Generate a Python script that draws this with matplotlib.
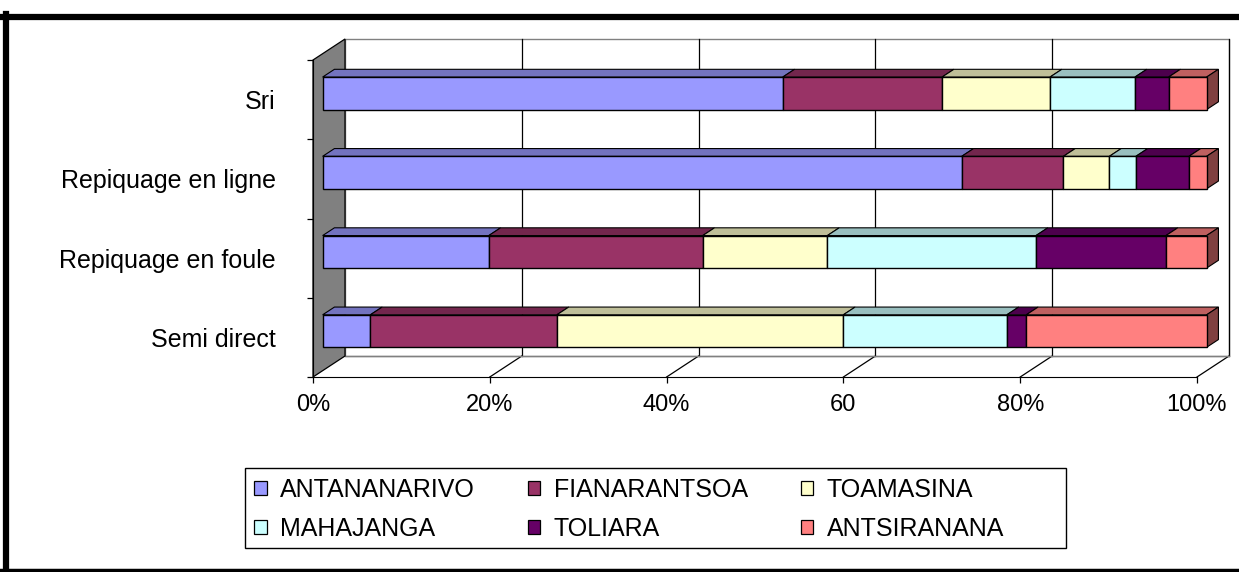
import numpy as np
import matplotlib
matplotlib.use('Agg')
import matplotlib.pyplot as plt
from matplotlib.patches import Polygon, Rectangle, Patch
from matplotlib.lines import Line2D
from matplotlib.colors import to_rgb

plt.rcParams['font.family'] = ['Liberation Sans', 'DejaVu Sans']

# Data (percent of each technique)
categories = ['Semi direct', 'Repiquage en foule', 'Repiquage en ligne', 'Sri']
regions = ['ANTANANARIVO', 'FIANARANTSOA', 'TOAMASINA', 'MAHAJANGA', 'TOLIARA', 'ANTSIRANANA']
antananarivo = [5.4, 18.8, 72.3, 52.0]
fianarantsoa = [21.1, 24.2, 11.5, 18.0]
toamasina = [32.4, 14.1, 5.2, 12.2]
mahajanga = [18.5, 23.6, 3.0, 9.6]
toliara = [2.2, 14.7, 6.0, 3.8]
antsiranana = [20.4, 4.6, 2.0, 4.3]
colors = ['#9999FF', '#993366', '#FFFFCC', '#CCFFFF', '#660066', '#FF8080']
xticks = [0, 20, 40, 60, 80, 100]
xticklabels = ['0%', '20%', '40%', '60', '80%', '100%']

series = np.array([antananarivo, fianarantsoa, toamasina, mahajanga, toliara, antsiranana])
series = series / series.sum(axis=0) * 100

W, H, DPI = 1239, 572, 100
fig = plt.figure(figsize=(W / DPI, H / DPI), dpi=DPI)
ax = fig.add_axes([313 / W, (H - 377) / H, 884 / W, 317 / H])
ax.set_xlim(0, 100)
ax.set_ylim(-0.5, 3.5)
ax.patch.set_visible(False)

# depth of the 3d box, in data units (32 px right, 21 px up)
DX = 32 * 100 / 884
DY = 21 * 4 / 317


def proj(x, y, d):
    return (x + d * DX, y + d * DY)


def shade(c, f):
    return tuple(v * f for v in to_rgb(c))


# back wall with gridlines
wall = Polygon([proj(0, -0.5, 1), proj(100, -0.5, 1), proj(100, 3.5, 1), proj(0, 3.5, 1)],
               closed=True, facecolor='white', edgecolor='#808080', lw=1, clip_on=False, zorder=0)
ax.add_patch(wall)
for x in xticks[1:]:
    p0 = proj(x, -0.5, 1)
    p1 = proj(x, 3.5, 1)
    ax.add_line(Line2D([p0[0], p1[0]], [p0[1], p1[1]], color='black', lw=0.9, clip_on=False, zorder=1))
    q0 = proj(x, -0.5, 0)
    ax.add_line(Line2D([q0[0], p0[0]], [q0[1], p0[1]], color='black', lw=0.9, clip_on=False, zorder=1))
p0 = proj(0, -0.5, 1)
p1 = proj(100, -0.5, 1)
ax.add_line(Line2D([p0[0], p1[0]], [p0[1], p1[1]], color='#808080', lw=1, clip_on=False, zorder=1))

# left side wall (grey)
side = Polygon([proj(0, -0.5, 0), proj(0, 3.5, 0), proj(0, 3.5, 1), proj(0, -0.5, 1)],
               closed=True, facecolor='#808080', edgecolor='black', lw=0.9, clip_on=False, zorder=1)
ax.add_patch(side)

# bars
D0, D1 = 0.3, 0.67
BAR_H = 0.41
ypos = np.arange(len(categories))
left = np.zeros(len(categories))
for i, vals in enumerate(series):
    ax.barh(ypos + D0 * DY, vals, left=left + D0 * DX, height=BAR_H, color=colors[i],
            edgecolor='black', linewidth=1, zorder=4, clip_on=False)
    for j in range(len(categories)):
        a, b = left[j], left[j] + vals[j]
        yt = ypos[j] + BAR_H / 2
        top = Polygon([proj(a, yt, D0), proj(b, yt, D0), proj(b, yt, D1), proj(a, yt, D1)],
                      closed=True, facecolor=shade(colors[i], 0.75), edgecolor='black',
                      lw=0.8, zorder=3, clip_on=False)
        ax.add_patch(top)
        if i == len(series) - 1:
            yl = ypos[j] - BAR_H / 2
            rs = Polygon([proj(b, yl, D0), proj(b, yt, D0), proj(b, yt, D1), proj(b, yl, D1)],
                         closed=True, facecolor=shade(colors[i], 0.5), edgecolor='black',
                         lw=0.8, zorder=3, clip_on=False)
            ax.add_patch(rs)
    left = left + vals

# axes
for s in ['top', 'right']:
    ax.spines[s].set_visible(False)
ax.spines['left'].set_color('black')
ax.spines['bottom'].set_color('black')
ax.spines['left'].set_zorder(2)
ax.set_xticks(xticks)
ax.set_xticklabels(xticklabels, fontsize=17)
ax.tick_params(axis='x', length=4, width=0.9, pad=8)
ax.set_yticks([-0.5, 0.5, 1.5, 2.5, 3.5])
ax.set_yticklabels([])
ax.tick_params(axis='y', which='major', length=4, width=0.9)
ax.set_yticks(ypos, minor=True)
ax.set_yticklabels(categories, minor=True, fontsize=18)
ax.tick_params(axis='y', which='minor', length=0, pad=27)

# legend
handles = [Patch(facecolor=c, edgecolor='black', lw=0.9) for c in colors]
order = [0, 3, 1, 4, 2, 5]
fig.legend([handles[k] for k in order], [regions[k] for k in order], ncol=3,
           loc='upper left', bbox_to_anchor=(254 / W, (H - 478) / H), frameon=False,
           fontsize=18, handlelength=0.5, handleheight=0.5, handletextpad=0.55,
           columnspacing=2.1, labelspacing=0.58, borderpad=0, borderaxespad=0)
fig.add_artist(Rectangle((245 / W, (H - 548) / H), 821 / W, 80 / H, transform=fig.transFigure,
                         facecolor='none', edgecolor='black', lw=1))

# outer frame
fig.add_artist(Line2D([0, 1], [(H - 17) / H] * 2, transform=fig.transFigure, color='black', lw=4.5))
fig.add_artist(Line2D([6 / W] * 2, [0, (H - 14) / H], transform=fig.transFigure, color='black', lw=4.5))
fig.add_artist(Line2D([0, 1], [2 / H] * 2, transform=fig.transFigure, color='black', lw=2.5))

plt.savefig('out.png', dpi=DPI)
